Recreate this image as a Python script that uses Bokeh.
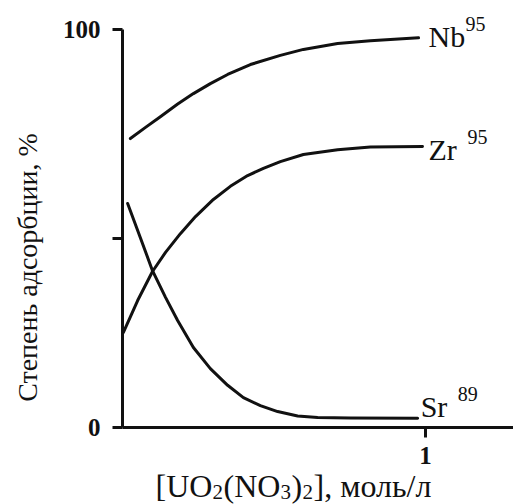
import math
from bokeh.plotting import figure
from bokeh.models import Range1d, FixedTicker, Label
from bokeh.embed import file_html
from bokeh.resources import INLINE

# ---- data ----
nb_x = [0.026, 0.076, 0.125, 0.181, 0.234, 0.290, 0.347, 0.422, 0.521, 0.597, 0.710, 0.818, 0.977]
nb_y = [72.6, 75.4, 78.1, 81.2, 83.9, 86.4, 88.7, 91.2, 93.5, 95.0, 96.5, 97.2, 97.9]

zr_x = [0.003, 0.050, 0.099, 0.142, 0.191, 0.241, 0.300, 0.356, 0.413, 0.465, 0.521, 0.597, 0.710, 0.818, 0.990]
zr_y = [23.9, 31.9, 39.2, 44.0, 48.7, 53.0, 57.3, 60.6, 63.3, 65.1, 66.8, 68.6, 69.8, 70.5, 70.6]

sr_x = [0.017, 0.059, 0.099, 0.142, 0.182, 0.234, 0.290, 0.347, 0.399, 0.455, 0.512, 0.578, 0.644, 0.752, 0.974]
sr_y = [56.3, 47.7, 39.4, 32.7, 26.9, 20.1, 14.8, 10.6, 7.5, 5.5, 4.0, 2.9, 2.5, 2.4, 2.3]

y_ticks = [0, 47.5, 100]
y_tick_labels = {0: "0", 47.5: "", 100: "100"}
x_ticks = [1]
x_tick_labels = {1: "1"}
x_max = 1.2904

series_names = ["Nb", "Zr", "Sr"]
series_mass = ["95", "95", "89"]

y_title = "Степень адсорбции, %"
x_title_parts = ["[UO", "2", "(NO", "3", ")", "2", "], моль/л"]
x_title_is_sub = [False, True, False, True, False, True, False]

FONT = "Liberation Serif"
INK = "#111111"

# the frame fills the whole page; axes sit at data 0 (fixed_location)
p = figure(width=513, height=504, output_backend="svg", toolbar_location=None, min_border=0,
           x_range=Range1d(-0.4026, x_max), y_range=Range1d(-19.35, 107.29))
p.outline_line_color = None
p.grid.visible = False
p.background_fill_color = "white"
p.border_fill_color = "white"

for ax in (p.xaxis[0], p.yaxis[0]):
    ax.fixed_location = 0
    ax.axis_line_width = 3
    ax.axis_line_color = INK
    ax.major_tick_line_width = 3
    ax.major_tick_line_color = INK
    ax.major_tick_in = 0
    ax.major_tick_out = 10
    ax.minor_tick_line_color = None
    ax.major_label_text_font = FONT
    ax.major_label_text_font_style = "bold"
    ax.major_label_text_font_size = "25px"
    ax.major_label_text_color = INK

p.yaxis.bounds = (0, 100)
p.yaxis.ticker = FixedTicker(ticks=y_ticks)
p.yaxis.major_label_overrides = y_tick_labels
p.yaxis.major_label_standoff = 12
p.xaxis.bounds = (0, x_max)
p.xaxis.ticker = FixedTicker(ticks=x_ticks)
p.xaxis.major_label_overrides = x_tick_labels
p.xaxis.major_label_standoff = 10

series = ((nb_x, nb_y), (zr_x, zr_y), (sr_x, sr_y))
for xs, ys in series:
    p.line(xs, ys, line_width=3, line_color=INK, line_join="round", line_cap="round")

# series labels, anchored at the end of each curve (name dx, name dy, mass dx, mass dy)
offs = [
    (10, 1, 47, 14),
    (6, -3, 45, 10),
    (3, 12, 40, 24),
]
for (xs, ys), name, mass, (ndx, ndy, mdx, mdy) in zip(series, series_names, series_mass, offs):
    p.add_layout(Label(x=xs[-1], y=ys[-1], x_offset=ndx, y_offset=ndy, text=name,
                       text_font=FONT, text_font_size="30px", text_color=INK,
                       text_baseline="alphabetic", text_align="left"))
    p.add_layout(Label(x=xs[-1], y=ys[-1], x_offset=mdx, y_offset=mdy, text=mass,
                       text_font=FONT, text_font_size="20px", text_color=INK,
                       text_baseline="alphabetic", text_align="left"))

# y title (relative to the axes origin)
p.add_layout(Label(x=0, y=0, x_offset=-95, y_offset=160, text=y_title, angle=math.pi / 2,
                   text_font=FONT, text_font_size="28px", text_color=INK,
                   text_align="center", text_baseline="alphabetic"))

# x title built from pieces (with subscripts); advances in pixels
advances = [57, 11, 57, 11, 11, 11, 0]
cx = 33
for txt, sub, adv in zip(x_title_parts, x_title_is_sub, advances):
    p.add_layout(Label(x=0, y=0, x_offset=cx, y_offset=-65 if sub else -59, text=txt,
                       text_font=FONT, text_font_size="21px" if sub else "32px", text_color=INK,
                       text_align="left", text_baseline="alphabetic"))
    cx += adv

open("out.html", "w").write(file_html(p, INLINE))
